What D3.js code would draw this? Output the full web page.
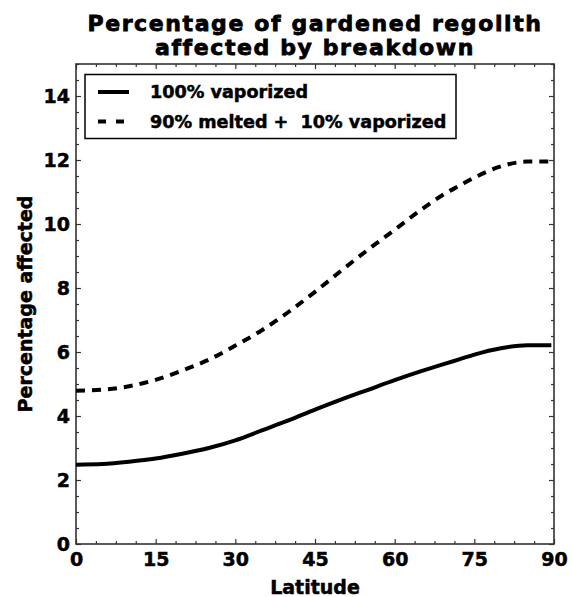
<!DOCTYPE html>
<html>
<head>
<meta charset="utf-8">
<script src="https://cdn.jsdelivr.net/npm/d3@7"></script>
<style>
  body { margin: 0; background: #fff; }
  text { font-family: "DejaVu Sans", sans-serif; font-weight: bold; fill: #000; stroke: #000; stroke-width: 0.5px; }
</style>
</head>
<body>
<div id="chart"></div>
<script>
// values
const latitudes = [0, 5, 10, 15, 20, 25, 30, 35, 40, 45, 50, 55, 60, 65, 70, 72, 75, 80, 85, 89.5];
const vaporized = [2.48, 2.50, 2.57, 2.67, 2.82, 3.00, 3.24, 3.55, 3.86, 4.20, 4.52, 4.82, 5.12, 5.40, 5.66, 5.76, 5.92, 6.12, 6.21, 6.21];
const meltedVaporized = [4.79, 4.82, 4.93, 5.13, 5.42, 5.76, 6.20, 6.68, 7.25, 7.88, 8.55, 9.20, 9.82, 10.45, 11.00, 11.18, 11.45, 11.80, 11.95, 11.95];
const seriesNames = ["100% vaporized", "90% melted +  10% vaporized"];
const xTicks = [0, 15, 30, 45, 60, 75, 90];
const yTicks = [0, 2, 4, 6, 8, 10, 12, 14];
const titleLines = ["Percentage of gardened regolith", "affected by breakdown"];

const width = 571;
const height = 597;
const marginTop = 64;
const marginRight = 17;
const marginBottom = 53;
const marginLeft = 76;

const x = d3.scaleLinear().domain([0, 90]).range([marginLeft, width - marginRight]);
const y = d3.scaleLinear().domain([0, 15]).range([height - marginBottom, marginTop]);

const plotBottom = height - marginBottom, plotTop = marginTop;
const plotLeft = marginLeft, plotRight = width - marginRight;

const svg = d3.select("#chart").append("svg")
    .attr("width", width)
    .attr("height", height);

// title
svg.append("g")
  .selectAll("text")
  .data(titleLines)
  .join("text")
    .attr("x", (plotLeft + plotRight) / 2)
    .attr("y", (d, i) => 31 + i * 23.5)
    .attr("text-anchor", "middle")
    .attr("font-size", 22)
    .attr("letter-spacing", 1.6)
    .style("stroke-width", "0.8px")
    .text(d => d);

// minor ticks every 3.75 deg and 0.5 %
const xMinor = d3.range(0, 90.01, 3.75).filter(v => !xTicks.includes(v));
const yMinor = d3.range(0, 15.01, 0.5).filter(v => !yTicks.includes(v));

function tickAxis(axis, scale, values, size, transform) {
  const g = svg.append("g")
      .attr("transform", transform)
      .call(axis(scale).tickValues(values).tickSize(-size).tickFormat(""));
  g.select(".domain").remove();
  g.selectAll("line").attr("stroke", "#333").attr("stroke-width", 1.2);
  return g;
}

tickAxis(d3.axisBottom, x, xMinor, 3, `translate(0,${plotBottom})`);
tickAxis(d3.axisTop, x, xMinor, 3, `translate(0,${plotTop})`);
tickAxis(d3.axisTop, x, xTicks, 5, `translate(0,${plotTop})`);
tickAxis(d3.axisLeft, y, yMinor, 3, `translate(${plotLeft},0)`);
tickAxis(d3.axisRight, y, yMinor, 3, `translate(${plotRight},0)`);
tickAxis(d3.axisRight, y, yTicks, 5, `translate(${plotRight},0)`);

// labelled axes
const gx = svg.append("g")
    .attr("transform", `translate(0,${plotBottom})`)
    .call(d3.axisBottom(x).tickValues(xTicks).tickSize(-5).tickPadding(8.5));
gx.select(".domain").remove();
gx.selectAll("line").attr("stroke", "#333").attr("stroke-width", 1.2);
gx.selectAll("text").attr("font-size", 19).attr("font-family", null).attr("fill", null);

const gy = svg.append("g")
    .attr("transform", `translate(${plotLeft},0)`)
    .call(d3.axisLeft(y).tickValues(yTicks).tickSize(-5).tickPadding(6));
gy.select(".domain").remove();
gy.selectAll("line").attr("stroke", "#333").attr("stroke-width", 1.2);
gy.selectAll("text").attr("font-size", 19).attr("font-family", null).attr("fill", null);

// frame
svg.append("rect")
    .attr("x", plotLeft)
    .attr("y", plotTop)
    .attr("width", plotRight - plotLeft)
    .attr("height", plotBottom - plotTop)
    .attr("fill", "none")
    .attr("stroke", "#333")
    .attr("stroke-width", 1.6);

// lines
const line = d3.line()
    .x((d, i) => x(latitudes[i]))
    .y(d => y(d))
    .curve(d3.curveMonotoneX);

const series = [
  {values: vaporized, dash: null},
  {values: meltedVaporized, dash: "9,7"}
];

svg.append("g")
  .selectAll("path")
  .data(series)
  .join("path")
    .attr("d", d => line(d.values))
    .attr("fill", "none")
    .attr("stroke", "#000")
    .attr("stroke-width", 4)
    .attr("stroke-dasharray", d => d.dash);

// axis titles
svg.append("text")
    .attr("x", (plotLeft + plotRight) / 2)
    .attr("y", 594)
    .attr("text-anchor", "middle")
    .attr("font-size", 19)
    .text("Latitude");

svg.append("text")
    .attr("transform", `translate(32,${(plotTop + plotBottom) / 2}) rotate(-90)`)
    .attr("text-anchor", "middle")
    .attr("font-size", 19)
    .text("Percentage affected");

// legend
const legend = svg.append("g");
legend.append("rect")
    .attr("x", 85)
    .attr("y", 74.5)
    .attr("width", 371)
    .attr("height", 64)
    .attr("fill", "#fff")
    .attr("stroke", "#000")
    .attr("stroke-width", 1.5);

const items = legend.selectAll("g.item")
  .data(series)
  .join("g")
    .attr("class", "item")
    .attr("transform", (d, i) => `translate(0,${92 + i * 29.5})`);

items.append("line")
    .attr("x1", 98).attr("x2", 129)
    .attr("stroke", "#000")
    .attr("stroke-width", 4)
    .attr("stroke-dasharray", d => d.dash ? "8,10" : null);

items.append("text")
    .attr("x", 150)
    .attr("dy", "0.36em")
    .attr("font-size", 17.6)
    .style("white-space", "pre")
    .text((d, i) => seriesNames[i]);
</script>
</body>
</html>
